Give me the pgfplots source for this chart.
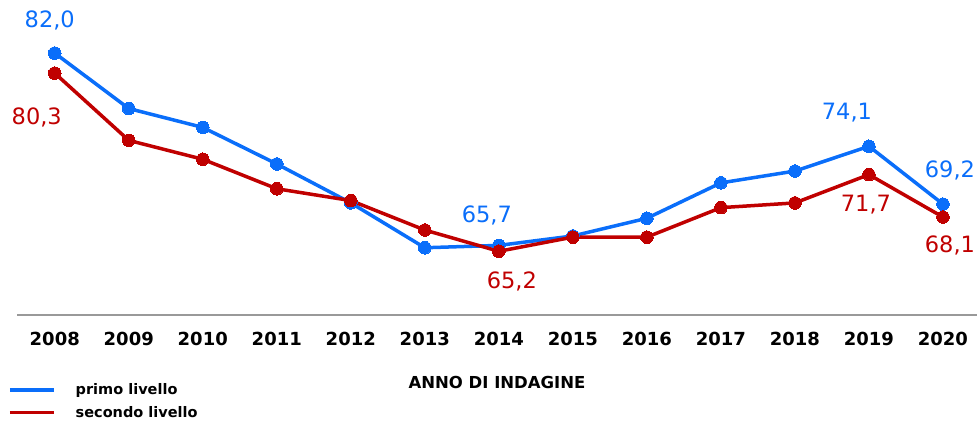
\documentclass[border=0pt]{standalone}
\usepackage{fontspec}
\setmainfont{DejaVu Sans}
\usepackage{pgfplots}
\pgfplotsset{compat=1.18}
\definecolor{bl}{HTML}{0A6EFA}
\definecolor{rd}{HTML}{C00000}
\begin{document}
\begin{tikzpicture}
\begin{axis}[
  at={(17pt,106pt)}, anchor=south west,
  width=960pt, height=315pt, scale only axis,
  xmin=2007.49, xmax=2020.46, ymin=59.8, ymax=86.5,
  axis x line=bottom, axis y line=none,
  axis line style={-, draw=gray!80, line width=1.5pt},
  xtick={2008,...,2020}, major tick length=0pt,
  /pgf/number format/1000 sep={},
  /pgf/number format/assume math mode=true,
  xticklabel style={font=\fontsize{18}{21}\selectfont\bfseries, yshift=-14pt},
  xlabel={ANNO DI INDAGINE},
  xlabel style={font=\fontsize{16.5}{19}\selectfont\bfseries, yshift=-23pt},
  clip=false,
  legend style={at={(-0.0125,-0.205)}, anchor=north west, draw=none, fill=none,
    font=\fontsize{14.5}{17}\selectfont\bfseries, row sep=6pt},
  legend cell align=left,
  legend image code/.code={\draw[#1,mark=none] (0pt,0pt) -- (44pt,0pt); \path (62pt,0pt);},
  every axis plot/.append style={line width=3.5pt, mark=*, mark size=6.3pt},
]
\addplot[color=bl, mark options={fill=bl, draw=bl, line width=0pt}] coordinates {
(2008,82.0)(2009,77.3)(2010,75.7)(2011,72.6)(2012,69.3)(2013,65.5)(2014,65.7)
(2015,66.5)(2016,68.0)(2017,71.0)(2018,72.0)(2019,74.1)(2020,69.2)};
\addlegendentry{primo livello}
\addplot[color=rd, mark options={fill=rd, draw=rd, line width=0pt}] coordinates {
(2008,80.3)(2009,74.6)(2010,73.0)(2011,70.5)(2012,69.5)(2013,67.0)(2014,65.2)
(2015,66.4)(2016,66.4)(2017,68.9)(2018,69.3)(2019,71.7)(2020,68.1)};
\addlegendentry{secondo livello}
\begin{scope}[every node/.style={font=\fontsize{22.5}{26}\selectfont}]
\node[text=bl, xshift=-5pt, yshift=33pt] at (axis cs:2008,82.0) {82,0};
\node[text=rd, xshift=-18pt, yshift=-44pt] at (axis cs:2008,80.3) {80,3};
\node[text=bl, xshift=-12pt, yshift=30pt] at (axis cs:2014,65.7) {65,7};
\node[text=rd, xshift=13pt, yshift=-30pt] at (axis cs:2014,65.2) {65,2};
\node[text=bl, xshift=-22pt, yshift=34pt] at (axis cs:2019,74.1) {74,1};
\node[text=rd, xshift=-3pt, yshift=-30pt] at (axis cs:2019,71.7) {71,7};
\node[text=bl, xshift=7pt, yshift=34pt] at (axis cs:2020,69.2) {69,2};
\node[text=rd, xshift=7pt, yshift=-28pt] at (axis cs:2020,68.1) {68,1};
\end{scope}
\end{axis}
\pgfresetboundingbox
\useasboundingbox (0pt,0pt) rectangle (977pt,421pt);
\end{tikzpicture}
\end{document}
